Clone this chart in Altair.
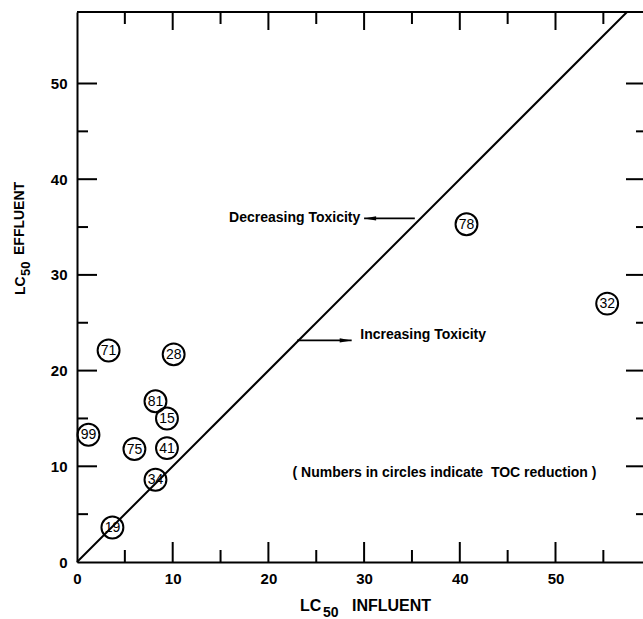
import altair as alt
import pandas as pd

# LC50 of influent vs effluent; circled numbers give % TOC reduction
influent = [3.7, 8.2, 9.4, 6.0, 1.2, 9.4, 8.2, 3.3, 10.1, 40.7, 55.4]
effluent = [3.6, 8.6, 11.9, 11.8, 13.3, 15.0, 16.8, 22.1, 21.7, 35.3, 27.0]
toc_reduction = ["19", "34", "41", "75", "99", "15", "81", "71", "28", "78", "32"]

# axis labels and tick positions
axis_labels = [0, 10, 20, 30, 40, 50]
x_major = [10, 20, 30, 40, 50]
x_minor = [5, 15, 25, 35, 45, 55]
y_major = [10, 20, 30, 40, 50]
y_minor = [5, 15, 25, 35, 45]

# annotation texts and their anchor points
note_text = ["Decreasing Toxicity", "Increasing Toxicity",
             "( Numbers in circles indicate \u00a0TOC reduction )"]
note_x = [29.6, 29.6, 38.4]
note_y = [35.9, 23.7, 9.35]
note_align = ["right", "left", "center"]

# arrows pointing away from the 1:1 line
arrow_tail = [35.3, 23.0]
arrow_tip = [30.0, 28.7]
arrow_y = [35.9, 23.15]
arrow_dir = ["left", "right"]

FONT = "Liberation Sans"
W, H = 566, 550
PX_PER_UNIT = 9.57
XMAX = W / PX_PER_UNIT
YMAX = H / PX_PER_UNIT

xs = alt.Scale(domain=[0, XMAX], nice=False, zero=False)
ys = alt.Scale(domain=[0, YMAX], nice=False, zero=False)

x_axis = alt.Axis(values=axis_labels, ticks=False, tickSize=0, grid=False,
                  domainColor="black", domainWidth=2, labelFont=FONT,
                  labelFontSize=15, labelFontWeight="bold", labelColor="black",
                  labelPadding=9, labelFlush=False, labelOverlap=False, title=None)
y_axis = alt.Axis(values=axis_labels, ticks=False, tickSize=0, grid=False,
                  domainColor="black", domainWidth=2, labelFont=FONT,
                  labelFontSize=15, labelFontWeight="bold", labelColor="black",
                  labelPadding=10, labelOverlap=False, title=None)

samples = pd.DataFrame({"influent": influent, "effluent": effluent,
                        "toc": toc_reduction})

X = alt.X("influent:Q", scale=xs, axis=x_axis)
Y = alt.Y("effluent:Q", scale=ys, axis=y_axis)

circles = alt.Chart(samples).mark_point(
    shape="circle", filled=False, size=480, strokeWidth=2, color="black", opacity=1
).encode(x=X, y=Y)

circle_labels = alt.Chart(samples).mark_text(
    font=FONT, fontSize=14, fontWeight=500, color="black",
    baseline="middle", align="center", dy=0.5
).encode(x=X, y=Y, text="toc:N")

# 1:1 line
diag = alt.Chart(pd.DataFrame({"influent": [0, YMAX], "effluent": [0, YMAX]})).mark_line(
    color="black", strokeWidth=2
).encode(x=X, y=Y)

# top border of the frame
top_border = alt.Chart(pd.DataFrame({"influent": [0]})).mark_rule(
    color="black", strokeWidth=2
).encode(x=alt.value(0), x2=alt.value(W), y=alt.value(0))


def x_ticks(values, y_from, y_to):
    return alt.Chart(pd.DataFrame({"influent": values})).mark_rule(
        color="black", strokeWidth=2
    ).encode(x=X, y=alt.value(y_from), y2=alt.value(y_to))


def y_ticks(values, x_from, x_to):
    return alt.Chart(pd.DataFrame({"effluent": values})).mark_rule(
        color="black", strokeWidth=2
    ).encode(y=Y, x=alt.value(x_from), x2=alt.value(x_to))


ticks = [
    x_ticks(x_major, H, H - 20),   # bottom, inward
    x_ticks(x_minor, H, H - 12),
    x_ticks(x_major, 0, 18),       # top, inward
    x_ticks(x_minor, 0, 12),
    y_ticks(y_major, 0, 20),       # left, inward
    y_ticks(y_minor, 0, 11),
    y_ticks(y_major, W, W - 17),   # right, inward
    y_ticks(y_minor, W, W - 7),
]

notes = pd.DataFrame({"influent": note_x, "effluent": note_y,
                      "text": note_text, "align": note_align})
note_layers = [
    alt.Chart(notes[notes["align"] == a]).mark_text(
        font=FONT, fontSize=14, fontWeight="bold", color="black",
        align=a, baseline="middle"
    ).encode(x=X, y=Y, text="text:N")
    for a in ["left", "right", "center"]
]

arrows = pd.DataFrame({"influent": arrow_tail, "tip": arrow_tip,
                       "effluent": arrow_y, "dir": arrow_dir})
shafts = alt.Chart(arrows).mark_rule(color="black", strokeWidth=1.8).encode(
    x=X, x2="tip:Q", y=Y
)
heads = alt.Chart(arrows).mark_point(filled=True, color="black", size=144, opacity=1).encode(
    x=alt.X("tip:Q", scale=xs, axis=x_axis),
    y=Y,
    shape=alt.Shape("dir:N", legend=None, scale=alt.Scale(
        domain=["left", "right"],
        range=["M0,0L2,-0.35L2,0.35Z", "M0,0L-2,-0.35L-2,0.35Z"])),
)

# axis titles with subscripted "50"
def title_part(text, x, y, size, angle=0):
    return alt.Chart(pd.DataFrame({"t": [text]})).mark_text(
        font=FONT, fontSize=size, fontWeight="bold", color="black",
        align="left", baseline="alphabetic", angle=angle
    ).encode(x=alt.value(x), y=alt.value(y), text="t:N")


titles = [
    title_part("LC", 223, 599, 16),
    title_part("50", 246, 605, 14),
    title_part("INFLUENT", 275, 599, 16),
    title_part("LC", -52, 283, 14, 270),
    title_part("50", -47, 264, 13, 270),
    title_part("EFFLUENT", -53, 243, 14, 270),
]

chart = alt.layer(
    diag, top_border, *ticks, shafts, heads, circles, circle_labels,
    *note_layers, *titles
).properties(
    width=W, height=H,
    autosize=alt.AutoSizeParams(type="none"),
    padding={"left": 77, "top": 12, "right": 0, "bottom": 57},
    background="white",
).configure_view(strokeWidth=0)

chart.save("out.html", embed_options={"renderer": "svg", "actions": False})
